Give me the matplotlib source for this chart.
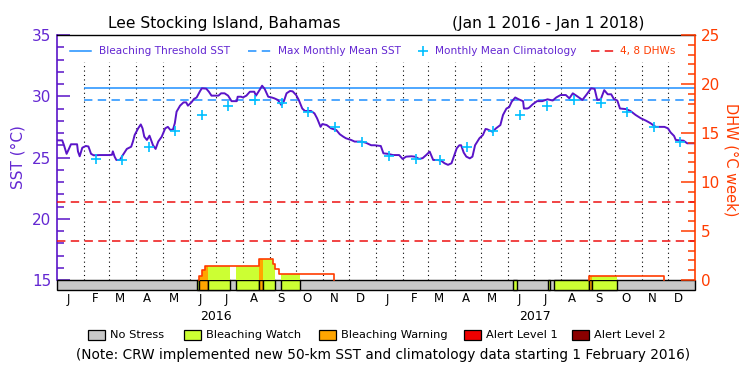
import numpy as np
import matplotlib
matplotlib.use("Agg")
import matplotlib.pyplot as plt
from matplotlib.patches import Rectangle
from matplotlib.lines import Line2D
import matplotlib.transforms as mtransforms

plt.rcParams['font.family'] = ['DejaVu Sans']

# ---------------- data ----------------
title_left = "Lee Stocking Island, Bahamas"
title_right = "(Jan 1 2016 - Jan 1 2018)"
month_letters = ["J", "F", "M", "A", "M", "J", "J", "A", "S", "O", "N", "D"]
year_labels = ["2016", "2017"]
period_start = "2016-01-01"
period_end = "2018-01-01"
climatology_start = "2016-02-01"

# daily SST (days since 2016-01-01)
sst_day = [0, 6, 8, 11, 13, 16, 23, 24, 26, 29,
           33, 36, 39, 42, 49, 59, 63, 64, 66, 68,
           72, 76, 80, 85, 87, 89, 93, 96, 98, 100,
           103, 106, 110, 113, 116, 120, 124, 127, 130, 133,
           135, 137, 141, 145, 148, 150, 154, 157, 160, 164,
           166, 171, 174, 177, 185, 188, 192, 196, 200, 206,
           207, 211, 213, 217, 221, 226, 228, 232, 235, 238,
           242, 246, 249, 253, 257, 260, 263, 267, 270, 274,
           277, 281, 284, 291, 295, 298, 302, 304, 309, 314,
           320, 324, 328, 331, 337, 341, 349, 354, 360, 364,
           371, 374, 379, 385, 392, 396, 400, 406, 410, 415,
           419, 423, 427, 431, 436, 440, 444, 448, 452, 454,
           458, 461, 463, 466, 469, 473, 476, 479, 484, 488,
           491, 493, 499, 503, 508, 511, 515, 518, 521, 525,
           529, 534, 535, 539, 541, 545, 550, 556, 562, 568,
           572, 577, 583, 587, 591, 596, 602, 607, 612, 616,
           619, 623, 627, 631, 635, 638, 642, 645, 652, 657,
           663, 669, 675, 680, 686, 696, 700, 703, 707, 709,
           718, 722, 730]
sst_val = [26.40, 26.40, 26.00, 25.30, 25.60, 26.08, 26.08, 25.50, 25.10, 25.80,
           25.94, 25.90, 25.30, 25.18, 25.20, 25.20, 25.22, 25.50, 25.07, 24.80,
           24.80, 25.26, 25.70, 25.88, 26.30, 26.84, 27.38, 27.70, 27.38, 26.70,
           26.43, 26.78, 26.00, 25.70, 26.30, 26.70, 27.38, 27.50, 27.24, 27.30,
           27.80, 28.74, 29.23, 29.50, 29.50, 29.23, 29.50, 29.78, 29.90, 30.43,
           30.65, 30.62, 30.37, 30.05, 30.05, 30.24, 30.24, 30.05, 29.60, 29.60,
           29.96, 29.96, 29.90, 30.05, 30.37, 30.37, 30.05, 30.50, 30.86, 30.59,
           29.96, 29.90, 29.83, 29.70, 29.29, 29.60, 30.24, 30.43, 30.40, 30.10,
           29.70, 29.00, 28.80, 28.80, 28.60, 28.20, 27.50, 27.73, 27.65, 27.38,
           27.24, 26.90, 26.70, 26.57, 26.43, 26.30, 26.30, 26.20, 26.00, 26.00,
           25.94, 25.34, 25.30, 25.20, 25.20, 24.88, 25.07, 25.10, 25.07, 24.88,
           24.95, 25.20, 25.48, 24.80, 24.80, 24.75, 24.53, 24.40, 24.53, 24.93,
           25.75, 26.00, 26.00, 25.40, 25.07, 24.93, 25.07, 26.00, 26.57, 26.84,
           27.33, 27.30, 27.10, 27.38, 27.65, 28.47, 29.00, 29.10, 29.56, 29.90,
           29.75, 29.60, 29.00, 29.00, 29.07, 29.34, 29.60, 29.60, 29.75, 29.65,
           29.90, 30.10, 30.10, 29.83, 30.24, 30.00, 29.70, 30.16, 30.65, 30.60,
           29.70, 29.75, 30.50, 30.16, 30.16, 29.78, 29.65, 29.00, 28.95, 28.80,
           28.47, 28.20, 28.00, 27.80, 27.50, 27.50, 27.38, 27.05, 26.76, 26.43,
           26.37, 26.16, 26.16]

# monthly mean climatology (Jan..Dec)
clim_month_val = [25.10, 24.85, 24.77, 25.83, 27.14, 28.44, 29.17, 29.67, 29.42, 28.72, 27.53, 26.27]
mmm = 29.67
bleaching_threshold = mmm + 1.0
dhw_ref_levels = [4, 8]

# DHW events: step values starting at each day
dhw_event_days = [[163, 166, 169.5, 232, 247.5, 250, 254.5, 317], [610, 695]]
dhw_event_vals = [[0.45, 0.99, 1.46, 2.10, 1.65, 1.12, 0.58, 0.0], [0.45, 0.0]]

# stress level segments (start day, level): 0 none, 1 watch, 2 warning, 3 alert1, 4 alert2
stress_start = [0, 160, 163, 173, 198, 205, 232, 236, 250, 257, 278,
                523, 527, 562, 564.5, 569, 610, 613, 642]
stress_level = [0, 1, 2, 1, 0, 1, 2, 1, 0, 1, 0,
                1, 0, 1, 0, 1, 2, 1, 0]
stress_names = ["No Stress", "Bleaching Watch", "Bleaching Warning", "Alert Level 1", "Alert Level 2"]
stress_colors = ["#C8C8C8", "#CCFF33", "#FFA500", "#EE0000", "#8B0000"]

note_text = "(Note: CRW implemented new 50-km SST and climatology data starting 1 February 2016)"

# ---------------- styling ----------------
PURPLE = "#5A14C8"
PURPLE_TXT = "#6428D2"
ORANGE = "#FF3C00"
BLUE = "#1E90FF"
CYAN = "#00BFFF"
RED = "#EE1111"

W, H = 750, 375
fig = plt.figure(figsize=(7.5, 3.75), dpi=100)
px_l, px_r, px_t, px_b = 57, 695, 35, 290
ax = fig.add_axes([px_l / W, 1 - px_b / H, (px_r - px_l) / W, (px_b - px_t) / H])

t0 = np.datetime64(period_start)
total_days = int((np.datetime64(period_end) - t0).astype(int))
sst_top, sst_base = 35.0, 15.0
dhw_top = 25.0
px_per_sst = (280 - px_t) / (sst_top - sst_base)
sst_bottom = sst_base - (px_b - 280) / px_per_sst
dhw_bottom = -(px_b - 280) / ((280 - px_t) / dhw_top)

ax.set_xlim(0, total_days)
ax.set_ylim(sst_bottom, sst_top)
ax2 = ax.twinx()
ax2.set_ylim(dhw_bottom, dhw_top)
ax2.set_xlim(0, total_days)

month_starts = np.arange(np.datetime64('2016-01'), np.datetime64('2018-01'), np.timedelta64(1, 'M'))
month_day = (month_starts.astype('datetime64[D]') - t0).astype(int)
clim_start_day = int((np.datetime64(climatology_start) - t0).astype(int))

# dotted month separators
ax.vlines(month_day[1:], sst_base, 32.8, colors='black', linestyles=(0, (1, 3)), lw=0.8, zorder=1)

# reference lines
ax.hlines(bleaching_threshold, clim_start_day, total_days, colors=BLUE, lw=1.1, zorder=2)
ax.hlines(mmm, clim_start_day, total_days, colors=BLUE, lw=1.1, linestyles=(0, (5.5, 3.5)), zorder=2)
for lv in dhw_ref_levels:
    ax2.axhline(lv, color=RED, lw=1.1, ls=(0, (5.5, 3.5)), zorder=2)

# SST
ax.plot(sst_day, sst_val, color=PURPLE, lw=1.4, zorder=4)

# climatology crosses
cx, cy = [], []
for md, ms in zip(month_day, month_starts):
    if md + 14 < clim_start_day:
        continue
    m = int(str(ms)[5:7]) - 1
    cx.append(md + 14)
    cy.append(clim_month_val[m])
ax.plot(cx, cy, ls='none', marker='+', ms=7, mew=1.2, color=CYAN, zorder=5)


# DHW value lookup
def dhw_value(t):
    for d, v in zip(dhw_event_days, dhw_event_vals):
        if d[0] <= t < d[-1]:
            i = int(np.searchsorted(d, t, side='right')) - 1
            return v[i]
    return 0.0


seg_end = stress_start[1:] + [total_days]
# fill under DHW colored by stress
for s, e, lvl in zip(stress_start, seg_end, stress_level):
    if lvl == 0:
        continue
    bps = [s] + [d for ev in dhw_event_days for d in ev if s < d < e] + [e]
    bps = sorted(bps)
    vals = [dhw_value(b) for b in bps]
    ax2.fill_between(bps, 0, vals, step='post', color=stress_colors[lvl], lw=0, zorder=2)

# DHW outline
for d, v in zip(dhw_event_days, dhw_event_vals):
    ax2.plot([d[0]] + d, [0] + v, drawstyle='steps-post', color=ORANGE, lw=1.2, zorder=3)

# stress bar
ax.add_patch(Rectangle((0, sst_bottom), total_days, sst_base - sst_bottom,
                       facecolor=stress_colors[0], edgecolor='black', lw=1.0, zorder=6, clip_on=False))
for s, e, lvl in zip(stress_start, seg_end, stress_level):
    if lvl == 0:
        continue
    ax.add_patch(Rectangle((s, sst_bottom), e - s, sst_base - sst_bottom,
                           facecolor=stress_colors[lvl], edgecolor='black', lw=1.0, zorder=7, clip_on=False))

# spines / ticks
for sp in ['bottom', 'right']:
    ax.spines[sp].set_visible(False)
for sp in ['bottom', 'left', 'top']:
    ax2.spines[sp].set_visible(False)
ax.spines['top'].set_color('black')
ax.spines['top'].set_linewidth(1.0)
ax.spines['left'].set_color(PURPLE)
ax.spines['left'].set_bounds(sst_base, sst_top)
ax.spines['left'].set_linewidth(1.2)
ax2.spines['right'].set_color(ORANGE)
ax2.spines['right'].set_bounds(0, dhw_top)
ax2.spines['right'].set_linewidth(1.2)

ax.set_xticks([])
ax.set_yticks(np.arange(15, 36, 5))
ax.set_yticks(np.arange(15, 36, 1), minor=True)
ax.tick_params(axis='y', which='major', direction='in', length=9, width=1.1, color=PURPLE,
               labelcolor=PURPLE_TXT, labelsize=11, pad=4)
ax.tick_params(axis='y', which='minor', direction='in', length=5, width=1.1, color=PURPLE)
ax2.set_yticks(np.arange(0, 26, 5))
ax2.set_yticks(np.arange(0, 26, 1), minor=True)
ax2.tick_params(axis='y', which='major', direction='in', length=10, width=1.1, color=ORANGE,
                labelcolor=ORANGE, labelsize=11, pad=4)
ax2.tick_params(axis='y', which='minor', direction='in', length=5, width=1.1, color=ORANGE)

# axis titles
fig.text(18 / W, 1 - 157.5 / H, "SST (°C)", color=PURPLE_TXT, fontsize=11,
         rotation=90, ha='center', va='center')
fig.text(731 / W, 1 - 160 / H, "DHW (°C week)", color=ORANGE, fontsize=10.5,
         rotation=-90, ha='center', va='center')

# month letters and years
trans = mtransforms.blended_transform_factory(ax.transData, fig.transFigure)
for i, md in enumerate(month_day):
    ax.text(md + 12.5, 1 - 299 / H, month_letters[i % 12], transform=trans,
            ha='center', va='center', fontsize=8.5, color='black')
for k, yl in enumerate(year_labels):
    ax.text(365 * k + 182.5, 1 - 316 / H, yl, transform=trans, ha='center', va='center',
            fontsize=9, color='black')

# title
fig.text(108 / W, 1 - 23.5 / H, title_left, ha='left', va='center', fontsize=11.2)
fig.text(644 / W, 1 - 23.5 / H, title_right, ha='right', va='center', fontsize=11.2)

# top legend
ly = 1 - 51 / H
fig.add_artist(Line2D([70 / W, 91 / W], [ly, ly], color=BLUE, lw=1.1))
fig.text(99 / W, ly, "Bleaching Threshold SST", color=PURPLE_TXT, fontsize=7.6, va='center')
fig.add_artist(Line2D([248 / W, 273 / W], [ly, ly], color=BLUE, lw=1.1, ls=(0, (5.5, 3.5))))
fig.text(278 / W, ly, "Max Monthly Mean SST", color=PURPLE_TXT, fontsize=7.6, va='center')
fig.add_artist(Line2D([423 / W], [ly], color=CYAN, marker='+', ms=7, mew=1.2, ls='none'))
fig.text(435 / W, ly, "Monthly Mean Climatology", color=PURPLE_TXT, fontsize=7.6, va='center')
fig.add_artist(Line2D([591 / W, 614 / W], [ly, ly], color=RED, lw=1.1, ls=(0, (5.5, 3.5))))
fig.text(620 / W, ly, "4, 8 DHWs", color=ORANGE, fontsize=7.6, va='center')

# bottom legend
box_x = [88, 184, 319, 464, 572]
by = 1 - 340 / H
for bx, name, col in zip(box_x, stress_names, stress_colors):
    fig.add_artist(Rectangle((bx / W, by), 17 / W, 10 / H, facecolor=col, edgecolor='black',
                             lw=0.9, transform=fig.transFigure))
    fig.text((bx + 22) / W, by + 5 / H, name, fontsize=8.2, va='center', ha='left', color='black')

fig.text(383 / W, 1 - 355 / H, note_text, fontsize=9.8, ha='center', va='center', color='black')

fig.savefig("out.png", dpi=100)
